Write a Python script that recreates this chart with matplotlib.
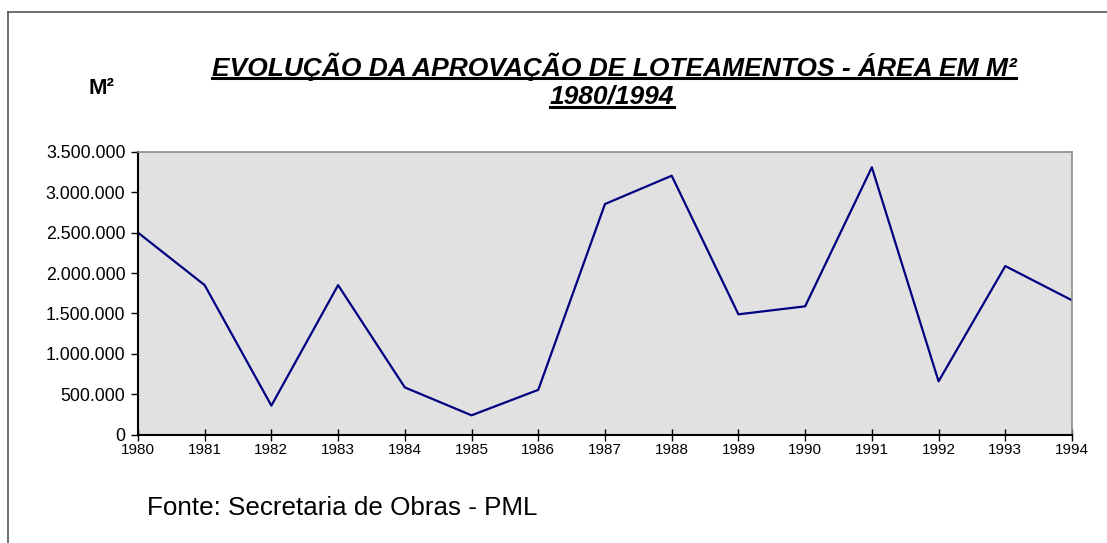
import matplotlib
matplotlib.use('Agg')
import matplotlib.pyplot as plt
from matplotlib.lines import Line2D
from matplotlib.ticker import FuncFormatter

# anos e area aprovada (m2)
anos = [1980, 1981, 1982, 1983, 1984, 1985, 1986, 1987,
        1988, 1989, 1990, 1991, 1992, 1993, 1994]
area = [2500000, 1850000, 360000, 1850000, 585000, 240000, 555000, 2853000,
        3203000, 1489000, 1588000, 3307000, 660000, 2086000, 1662000]
y_ticks = [0, 500000, 1000000, 1500000, 2000000, 2500000, 3000000, 3500000]

titulo1 = 'EVOLUÇÃO DA APROVAÇÃO DE LOTEAMENTOS - ÁREA EM M²'
titulo2 = '1980/1994'
fonte = 'Fonte: Secretaria de Obras - PML'

plt.rcParams['font.family'] = ['Liberation Sans', 'DejaVu Sans']

fig = plt.figure(figsize=(11.07, 5.43), dpi=100)
ax = fig.add_axes([0.1246, 0.1994, 0.9684 - 0.1246, 0.7206 - 0.1994])
ax.set_facecolor('#e1e1e1')

ax.plot(anos, area, color='#000080', lw=1.6)

ax.set_xlim(1980, 1994)
ax.set_ylim(0, 3500000)
ax.set_xticks(anos)
ax.set_yticks(y_ticks)
ax.yaxis.set_major_formatter(FuncFormatter(lambda v, p: f'{int(v):,}'.replace(',', '.')))
ax.tick_params(axis='y', labelsize=12.8, direction='out', length=5, width=1, pad=4)
ax.tick_params(axis='x', labelsize=11, direction='inout', length=8, width=1, pad=2)

for s in ['top', 'right']:
    ax.spines[s].set_color('#8c8c8c')
    ax.spines[s].set_linewidth(1.2)
for s in ['left', 'bottom']:
    ax.spines[s].set_color('#000000')
    ax.spines[s].set_linewidth(1.5)

# titulo sublinhado
t1 = fig.text(614 / 1107, 1 - 67 / 543, titulo1, fontsize=19, fontweight='bold',
              fontstyle='italic', ha='center', va='center')
t2 = fig.text(612 / 1107, 1 - 97 / 543, titulo2, fontsize=19, fontweight='bold',
              fontstyle='italic', ha='center', va='center')
fig.text(101 / 1107, 1 - 89 / 543, 'M²', fontsize=16, fontweight='bold',
         ha='center', va='center')
fig.text(147 / 1107, 1 - 508 / 543, fonte, fontsize=18.7, ha='left', va='center')

fig.canvas.draw()
r = fig.canvas.get_renderer()
for t in (t1, t2):
    bb = t.get_window_extent(r).transformed(fig.transFigure.inverted())
    y = bb.y0 + 0.1 * bb.height
    fig.add_artist(Line2D([bb.x0, bb.x1], [y, y], transform=fig.transFigure,
                          color='black', lw=2.2))

# moldura externa
fig.add_artist(Line2D([7.5 / 1107, 7.5 / 1107], [0, 1 - 12 / 543],
                      transform=fig.transFigure, color='#555555', lw=1.2))
fig.add_artist(Line2D([7.5 / 1107, 1], [1 - 12 / 543, 1 - 12 / 543],
                      transform=fig.transFigure, color='#555555', lw=1.2))

fig.savefig('out.png', dpi=100)
